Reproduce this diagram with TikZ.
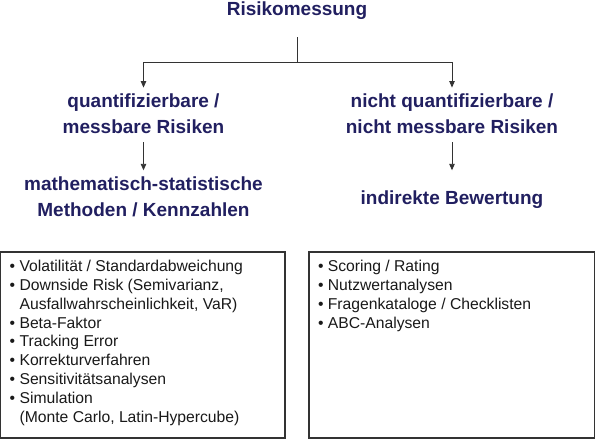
\documentclass[tikz,border=0pt]{standalone}
\usepackage{fontspec}
\setmainfont{Liberation Sans}
\usetikzlibrary{arrows.meta}
\definecolor{headblue}{RGB}{33,31,96}
\definecolor{linegray}{RGB}{51,51,51}
\newcommand{\cont}{\phantom{•\ }}

\begin{document}
\begin{tikzpicture}[x=1pt, y=-1pt,
    head/.style={text=headblue, font=\fontsize{19}{26.5}\selectfont\bfseries, align=center, inner sep=4pt},
    method/.style={head, minimum height=49pt},
    link/.style={draw=linegray, line width=0.9pt},
    arr/.style={link, -{Triangle[length=6.5pt, width=5.5pt]}},
    listbox/.style={draw=linegray, line width=1.4pt, minimum height=186pt},
    listtext/.style={anchor=north west, align=left, inner xsep=9.5pt, inner ysep=8.5pt,
      text=black!90, font=\fontsize{15.7}{18.9}\selectfont}]
  \useasboundingbox (0,0) rectangle (595,439);

  \node[head, anchor=base] (title) at (297,15.5) {Risikomessung};
  \coordinate (split) at (297,62);
  \node[head] (quant) at (143.5,113.6) {quantifizierbare /\\messbare Risiken};
  \node[head] (nonquant) at (452,113.6) {nicht quantifizierbare /\\nicht messbare Risiken};
  \node[method] (math) at (143.5,197) {mathematisch-statistische\\Methoden / Kennzahlen};
  \node[method, minimum height=54pt] (indirect) at (452,199.5) {indirekte Bewertung};

  \draw[link, shorten <=13.6pt] (title) -- (split);
  \foreach \n in {quant, nonquant}
    \draw[arr, shorten >=1.6pt] (split) -| (\n);
  \draw[arr, shorten <=4.4pt, shorten >=2pt] (quant) -- (math);
  \draw[arr, shorten <=4.4pt, shorten >=2pt] (nonquant) -- (indirect);

  \node[listbox, minimum width=284.3pt] (mbox) at (142.85,345) {};
  \node[listbox, minimum width=285.3pt] (ibox) at (451.65,345) {};
  \node[listtext] (mlist) at (mbox.north west) {%
    • Volatilität / Standardabweichung\\
    • Downside Risk (Semivarianz,\\
    \cont Ausfallwahrscheinlichkeit, VaR)\\
    • Beta-Faktor\\
    • Tracking Error\\
    • Korrekturverfahren\\
    • Sensitivitätsanalysen\\
    • Simulation\\
    \cont(Monte Carlo, Latin-Hypercube)};
  \node[listtext] (ilist) at (ibox.north west) {%
    • Scoring / Rating\\
    • Nutzwertanalysen\\
    • Fragenkataloge / Checklisten\\
    • ABC-Analysen};
\end{tikzpicture}
\end{document}
